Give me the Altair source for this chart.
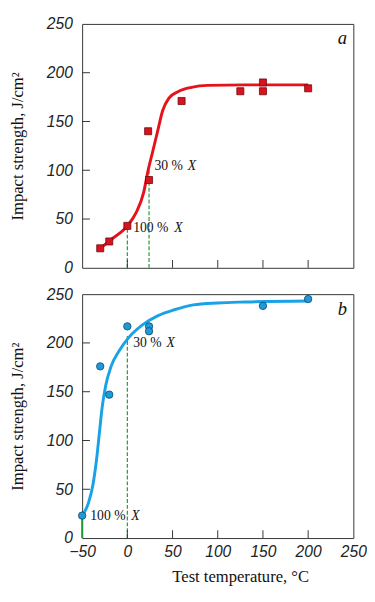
import altair as alt
import pandas as pd

# ---------------- data ----------------
# Panel a
a_pts_x = [-30, -20, 0, 23, 24, 60, 125, 150, 150, 200]
a_pts_y = [20, 27, 43, 140, 90, 171, 181, 190, 181, 184]
a_curve_x = [-30, -18, 0, 10, 18, 23, 28, 34, 39, 46, 57, 71, 89, 130, 200]
a_curve_y = [20, 29, 43, 57, 77, 100, 119, 142, 161, 174, 181, 185, 187, 187.5, 187.5]
a_vline_x = [0, 24]
a_vline_top = [43, 103]
a_ann_x = [30, 6.5]
a_ann_y = [104, 41]
a_ann_txt = ["30 %", "100 %"]

# Panel b
b_pts_x = [-50, -30, -20, 0, 24, 24, 150, 200]
b_pts_y = [23, 176, 147, 217, 217, 212, 238, 245]
b_curve_x = [-50, -43, -38, -34, -31, -28, -24, -18, -9, 1, 16, 34, 52, 73, 100, 130, 200]
b_curve_y = [23, 36, 55, 81, 107, 133, 156, 176, 192, 205, 218, 228, 234, 239, 241, 242, 243]
b_dash_x = [0]
b_dash_top = [207]
b_solid_x = [-50]
b_solid_top = [23]
b_ann_x = [6.5, -41]
b_ann_y = [200, 23]
b_ann_txt = ["30 %", "100 %"]

panel_labels = ["a", "b"]
panel_lab_x = 238
panel_lab_y = 235

x_ticks = [0, 50, 100, 150, 200]
y_ticks = [50, 100, 150, 200]
y_labels = [0, 50, 100, 150, 200, 250]
x_labels = [-50, 0, 50, 100, 150, 200, 250]

W, H = 278, 250
XDOM = [-50, 250]
YDOM = [0, 250]

SERIF = "Liberation Serif"
SANS = "Liberation Sans"
GREEN = "#1f9a35"


def panel(pts_x, pts_y, cx, cy, line_color, pt_fill, pt_stroke, shape,
          dash_x, dash_top, solid_x, solid_top, ann_x, ann_y, ann_txt,
          label, bottom):
    if bottom:
        xaxis = alt.Axis(values=x_labels, ticks=False, domain=False, grid=False,
                         labelPadding=6, labelFlush=False, labelOverlap=False,
                         title="Test temperature, °C",
                         titlePadding=10, titleX=162, titleAnchor="middle")
    else:
        xaxis = alt.Axis(values=x_labels, ticks=False, domain=False, grid=False,
                         labels=False, title=None)
    yaxis = alt.Axis(values=y_labels, ticks=False, domain=False, grid=False,
                     labelPadding=10, labelFlush=False, labelOverlap=False,
                     title="Impact strength, J/cm²", titlePadding=20)

    def X(f):
        return alt.X(f, scale=alt.Scale(domain=XDOM, nice=False, zero=False), axis=xaxis)

    def Y(f):
        return alt.Y(f, scale=alt.Scale(domain=YDOM, nice=False), axis=yaxis)

    pts = pd.DataFrame({"t": pts_x, "v": pts_y})
    curve = pd.DataFrame({"t": cx, "v": cy})
    dash = pd.DataFrame({"t": dash_x, "v": [0] * len(dash_x), "top": dash_top})

    layers = []
    layers.append(alt.Chart(dash).mark_rule(
        color=GREEN, strokeDash=[4, 2], strokeWidth=1.2
    ).encode(x=X("t:Q"), y=Y("v:Q"), y2="top:Q"))

    if solid_x:
        solid = pd.DataFrame({"t": solid_x, "v": [0] * len(solid_x), "top": solid_top})
        layers.append(alt.Chart(solid).mark_rule(color=GREEN, strokeWidth=2).encode(
            x=X("t:Q"), y=Y("v:Q"), y2="top:Q"))

    layers.append(alt.Chart(curve).mark_line(
        color=line_color, strokeWidth=3, interpolate="monotone"
    ).encode(x=X("t:Q"), y=Y("v:Q")))

    if shape == "square":
        pmark = alt.Chart(pts).mark_square(size=52, fill=pt_fill, stroke=pt_stroke,
                                            strokeWidth=0.8, opacity=1)
    else:
        pmark = alt.Chart(pts).mark_circle(size=58, fill=pt_fill, stroke=pt_stroke,
                                            strokeWidth=0.8, opacity=1)
    layers.append(pmark.encode(x=X("t:Q"), y=Y("v:Q")))

    # inward ticks
    yt = pd.DataFrame({"v": y_ticks})
    xt = pd.DataFrame({"t": x_ticks})
    layers.append(alt.Chart(yt).mark_rule(color="#333", strokeWidth=1).encode(
        y=Y("v:Q"), x=alt.value(0), x2=alt.value(8)))
    layers.append(alt.Chart(xt).mark_rule(color="#333", strokeWidth=1).encode(
        x=X("t:Q"), y=alt.value(H), y2=alt.value(H - 8)))

    # annotations
    ann = pd.DataFrame({"t": ann_x, "v": ann_y, "s": ann_txt, "x": ["X"] * len(ann_x)})
    layers.append(alt.Chart(ann).mark_text(
        font=SERIF, fontSize=14, align="left", baseline="middle", color="#111"
    ).encode(x=X("t:Q"), y=Y("v:Q"), text="s:N"))
    for i in range(len(ann_x)):
        w = 34 if ann_txt[i].startswith("30") else 42
        sub = ann.iloc[[i]]
        layers.append(alt.Chart(sub).mark_text(
            font=SERIF, fontSize=14, fontStyle="italic", align="left",
            baseline="middle", color="#111", dx=w
        ).encode(x=X("t:Q"), y=Y("v:Q"), text="x:N"))

    lab = pd.DataFrame({"t": [panel_lab_x], "v": [panel_lab_y], "s": [label]})
    layers.append(alt.Chart(lab).mark_text(
        font=SERIF, fontSize=19, fontStyle="italic", align="center",
        baseline="middle", color="#111"
    ).encode(x=X("t:Q"), y=Y("v:Q"), text="s:N"))

    return alt.layer(*layers).properties(width=W, height=H)


top = panel(a_pts_x, a_pts_y, a_curve_x, a_curve_y, "#e5121c", "#d8121e", "#6e0a0e",
            "square", a_vline_x, a_vline_top, [], [], a_ann_x, a_ann_y, a_ann_txt,
            panel_labels[0], bottom=False)
bot = panel(b_pts_x, b_pts_y, b_curve_x, b_curve_y, "#1aa2e6", "#1e9ad8", "#0c4670",
            "circle", b_dash_x, b_dash_top, b_solid_x, b_solid_top, b_ann_x, b_ann_y,
            b_ann_txt, panel_labels[1], bottom=True)

chart = alt.vconcat(top, bot, spacing=9).properties(
    padding={"left": 0, "top": 0, "right": 0, "bottom": 0},
    background="white",
).configure_view(
    stroke="#333", strokeWidth=1
).configure_axis(
    labelFont=SANS, labelFontSize=16, labelFontStyle="italic", labelColor="#222",
    titleFont=SERIF, titleFontSize=17, titleFontWeight="normal", titleColor="#111",
)

chart.save("out.html", embed_options={"renderer": "svg", "actions": False})
